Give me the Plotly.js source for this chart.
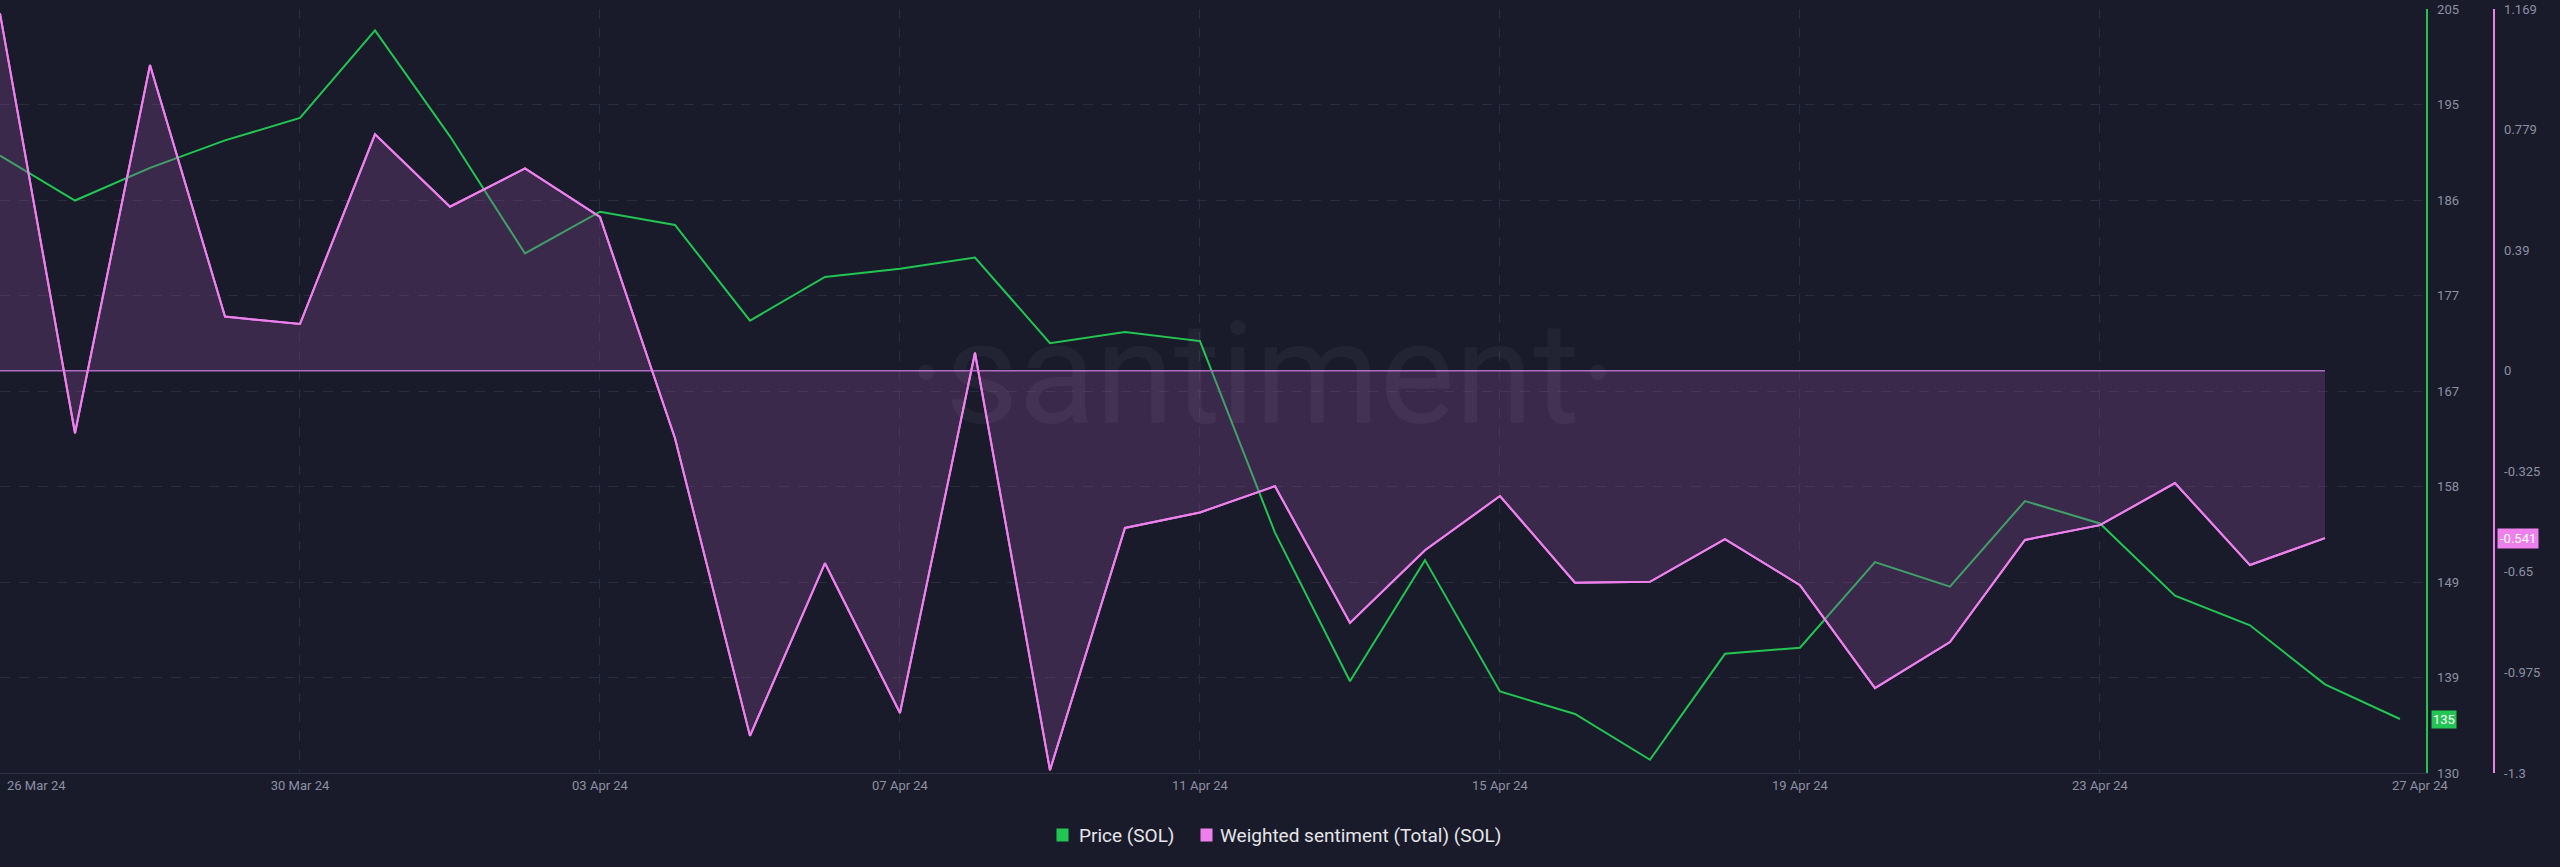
<!DOCTYPE html>
<html>
<head>
<meta charset="utf-8">
<script src="https://cdn.plot.ly/plotly-3.0.1.min.js"></script>
<style>
  html, body { margin: 0; padding: 0; background: #1a1b2a; }
  #chart { width: 2560px; height: 867px; }
</style>
</head>
<body>
<div id="chart"></div>
<script>
// ---- data ----
const dates = ["2024-03-26","2024-03-27","2024-03-28","2024-03-29","2024-03-30","2024-03-31",
  "2024-04-01","2024-04-02","2024-04-03","2024-04-04","2024-04-05","2024-04-06","2024-04-07",
  "2024-04-08","2024-04-09","2024-04-10","2024-04-11","2024-04-12","2024-04-13","2024-04-14",
  "2024-04-15","2024-04-16","2024-04-17","2024-04-18","2024-04-19","2024-04-20","2024-04-21",
  "2024-04-22","2024-04-23","2024-04-24","2024-04-25","2024-04-26","2024-04-27"];

const priceSOL = [190.6,186.2,189.4,192.1,194.3,202.9,192.5,181.0,185.1,183.8,174.4,178.7,179.5,
  180.6,172.2,173.3,172.4,153.6,139.0,150.9,138.0,135.8,131.3,141.7,142.3,150.7,148.3,156.7,
  154.5,147.4,144.5,138.7,135.3];

const sentimentSOL = [1.155,-0.202,0.988,0.175,0.151,0.764,0.530,0.654,0.497,-0.218,-1.180,-0.622,
  -1.106,0.058,-1.291,-0.508,-0.458,-0.373,-0.815,-0.580,-0.405,-0.685,-0.682,-0.544,-0.693,
  -1.026,-0.877,-0.547,-0.499,-0.363,-0.628,-0.541];

const xTickDates  = ["2024-03-26","2024-03-30","2024-04-03","2024-04-07","2024-04-11","2024-04-15","2024-04-19","2024-04-23","2024-04-27"];
const xTickLabels = ["26 Mar 24","30 Mar 24","03 Apr 24","07 Apr 24","11 Apr 24","15 Apr 24","19 Apr 24","23 Apr 24","27 Apr 24"];

const priceTicks = [130,139.375,148.75,158.125,167.5,176.875,186.25,195.625,205];
const priceTickLabels = ["130","139","149","158","167","177","186","195","205"];

const sentTicks = [-1.3,-0.975,-0.65,-0.325,0,0.39,0.779,1.169];
const sentTickLabels = ["-1.3","-0.975","-0.65","-0.325","0","0.39","0.779","1.169"];

const seriesNames = ["Price (SOL)", "Weighted sentiment (Total) (SOL)"];

// ---- style ----
const BG = "#1a1b2a";
const GREEN = "#22c552";
const PINK = "#ee80ee";
const GRID = "#2a2c40";
const TICK = "#8b90a3";
const FONT = "Roboto, 'Open Sans', sans-serif";

const sentDates = dates.slice(0, sentimentSOL.length);

const traces = [
  {
    x: dates, y: priceSOL, type: "scatter", mode: "lines", name: seriesNames[0],
    line: { color: GREEN, width: 2 }, xaxis: "x", yaxis: "y", hoverinfo: "skip"
  },
  {
    x: sentDates, y: sentimentSOL, type: "scatter", mode: "lines", name: seriesNames[1],
    line: { color: PINK, width: 2 }, fill: "tozeroy", fillcolor: "rgba(135,77,155,0.30)",
    xaxis: "x", yaxis: "y2", hoverinfo: "skip"
  },
  {
    x: sentDates, y: sentDates.map(() => 0), type: "scatter", mode: "lines",
    line: { color: "#b16cc1", width: 1.5 }, xaxis: "x", yaxis: "y2", hoverinfo: "skip", showlegend: false
  },
  {
    x: sentDates, y: sentimentSOL, type: "scatter", mode: "lines",
    line: { color: PINK, width: 2 }, xaxis: "x", yaxis: "y2", hoverinfo: "skip", showlegend: false
  }
];

const W = 2560, H = 867;
const mL = 0, mR = 67, mT = 9, mB = 94;
const paperW = W - mL - mR;           // 2493
const paperH = H - mT - mB;           // 764
const plotRight = 2426;
const px = v => v / paperW;
const py = yPix => (H - mB - yPix) / paperH;

const annotations = [];

// edge x tick labels
[[0, 36], [xTickLabels.length - 1, 2420]].forEach(([i, cx]) => {
  annotations.push({
    xref: "paper", yref: "paper", x: px(cx), y: py(786), xanchor: "center", yanchor: "middle",
    text: xTickLabels[i], showarrow: false, font: { family: FONT, size: 13, color: TICK }
  });
});

// watermark
annotations.push({
  xref: "paper", yref: "paper", x: px(1263), y: py(374), xanchor: "center", yanchor: "middle",
  text: "·santiment·", showarrow: false,
  font: { family: FONT, size: 142, color: "rgba(255,255,255,0.045)" }
});

// last value labels
annotations.push({
  xref: "paper", yref: "y", x: px(2431), y: priceSOL[priceSOL.length - 1], xanchor: "left", yanchor: "middle",
  text: String(Math.round(priceSOL[priceSOL.length - 1])), showarrow: false,
  bgcolor: GREEN, borderpad: 1, font: { family: FONT, size: 13, color: "#ffffff" }
});
annotations.push({
  xref: "paper", yref: "y2", x: px(2497), y: sentimentSOL[sentimentSOL.length - 1], xanchor: "left", yanchor: "middle",
  text: sentimentSOL[sentimentSOL.length - 1].toFixed(3), showarrow: false,
  bgcolor: PINK, borderpad: 2, font: { family: FONT, size: 13, color: "#ffffff" }
});

// legend
const legendItems = [
  { sq: 1062, tx: 1077, color: GREEN, name: seriesNames[0] },
  { sq: 1206, tx: 1218, color: PINK, name: seriesNames[1] }
];
legendItems.forEach(it => {
  annotations.push({
    xref: "paper", yref: "paper", x: px(it.sq), y: py(835), xanchor: "center", yanchor: "middle",
    text: " ", showarrow: false, bgcolor: it.color, width: 11, height: 12, borderpad: 0,
    font: { family: FONT, size: 10, color: it.color }
  });
  annotations.push({
    xref: "paper", yref: "paper", x: px(it.tx), y: py(835), xanchor: "left", yanchor: "middle",
    text: it.name, showarrow: false, font: { family: FONT, size: 19, color: "#e6e6ea" }
  });
});

const layout = {
  width: W, height: H,
  margin: { l: mL, r: mR, t: mT, b: mB, pad: 0 },
  paper_bgcolor: BG, plot_bgcolor: BG,
  showlegend: false, hovermode: false,
  font: { family: FONT, color: TICK, size: 13 },
  xaxis: {
    type: "date", domain: [0, plotRight / paperW],
    range: ["2024-03-26 00:00", "2024-04-27 08:20"],
    tickvals: xTickDates.slice(1, -1), ticktext: xTickLabels.slice(1, -1),
    ticks: "", ticklabelstandoff: 0,
    tickfont: { family: FONT, size: 13, color: TICK },
    showgrid: true, gridcolor: GRID, griddash: "10px,9px", gridwidth: 1,
    showline: true, linecolor: "#2c2f44", linewidth: 1,
    zeroline: false, fixedrange: true
  },
  yaxis: {
    side: "right", anchor: "x", range: [130, 205],
    tickvals: priceTicks, ticktext: priceTickLabels,
    ticks: "", ticklabelstandoff: 7,
    tickfont: { family: FONT, size: 13, color: TICK },
    showgrid: true, gridcolor: GRID, griddash: "10px,9px", gridwidth: 1,
    showline: true, linecolor: GREEN, linewidth: 1.5,
    zeroline: false, fixedrange: true
  },
  yaxis2: {
    overlaying: "y", side: "right", anchor: "free", position: 1,
    range: [-1.3, 1.169],
    tickvals: sentTicks, ticktext: sentTickLabels,
    ticks: "", ticklabelstandoff: 7,
    tickfont: { family: FONT, size: 13, color: TICK },
    showgrid: false, zeroline: false,
    showline: true, linecolor: PINK, linewidth: 1.5, fixedrange: true
  },
  annotations: annotations
};

Plotly.newPlot("chart", traces, layout, { staticPlot: true, displayModeBar: false });
</script>
</body>
</html>
